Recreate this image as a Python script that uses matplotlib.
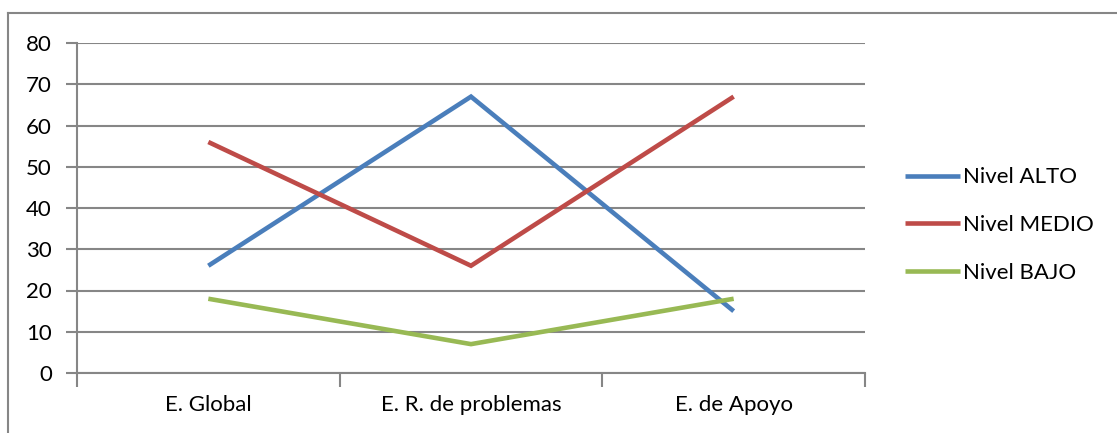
import matplotlib.pyplot as plt
from matplotlib.lines import Line2D

# datos del grafico
categorias = ['E. Global', 'E. R. de problemas', 'E. de Apoyo']
nivel_alto = [26, 67, 15]
nivel_medio = [56, 26, 67]
nivel_bajo = [18, 7, 18]
series = ['Nivel ALTO', 'Nivel MEDIO', 'Nivel BAJO']
colores = ['#4a7ebb', '#be4b48', '#98b954']

plt.rcParams['font.family'] = ['Lato', 'DejaVu Sans']
gris = '#868686'
fs = 16

W, H = 1117, 433
fig = plt.figure(figsize=(W / 100, H / 100), dpi=100)
ax = fig.add_axes([77 / W, (H - 373) / H, (865 - 77) / W, 330 / H])

x = list(range(len(categorias)))
for vals, nombre, c in zip([nivel_alto, nivel_medio, nivel_bajo], series, colores):
    ax.plot(x, vals, color=c, lw=3.3, label=nombre, solid_capstyle='butt', solid_joinstyle='miter')

ax.set_xlim(-0.5, len(categorias) - 0.5)
ax.set_ylim(0, 80)
ax.set_yticks(range(0, 81, 10))
ax.yaxis.grid(True, color=gris, lw=1.5)
ax.set_axisbelow(True)

# marcas del eje x entre categorias, etiquetas centradas
ax.set_xticks([i - 0.5 for i in range(len(categorias) + 1)])
ax.set_xticklabels([])
ax.set_xticks(x, minor=True)
ax.set_xticklabels(categorias, minor=True, fontsize=fs)
ax.tick_params(axis='x', which='major', length=10, width=1.5, color=gris, direction='out')
ax.tick_params(axis='x', which='minor', length=0, pad=16)
ax.tick_params(axis='y', length=8, width=1.5, color=gris, labelsize=fs, pad=10)

for s in ['top', 'right']:
    ax.spines[s].set_visible(False)
for s in ['left', 'bottom']:
    ax.spines[s].set_color(gris)
    ax.spines[s].set_linewidth(1.5)

leg = ax.legend(loc='center left', bbox_to_anchor=(1.026, 0.448), frameon=False,
                fontsize=fs, handlelength=2.45, handletextpad=0.15, labelspacing=1.25)

# marco exterior
fig.add_artist(Line2D([7.5 / W, 1], [1 - 13 / H, 1 - 13 / H], color=gris, lw=1.5, transform=fig.transFigure))
fig.add_artist(Line2D([7.5 / W, 7.5 / W], [0, 1 - 13 / H], color=gris, lw=1.5, transform=fig.transFigure))

fig.savefig('out.png', dpi=100)
